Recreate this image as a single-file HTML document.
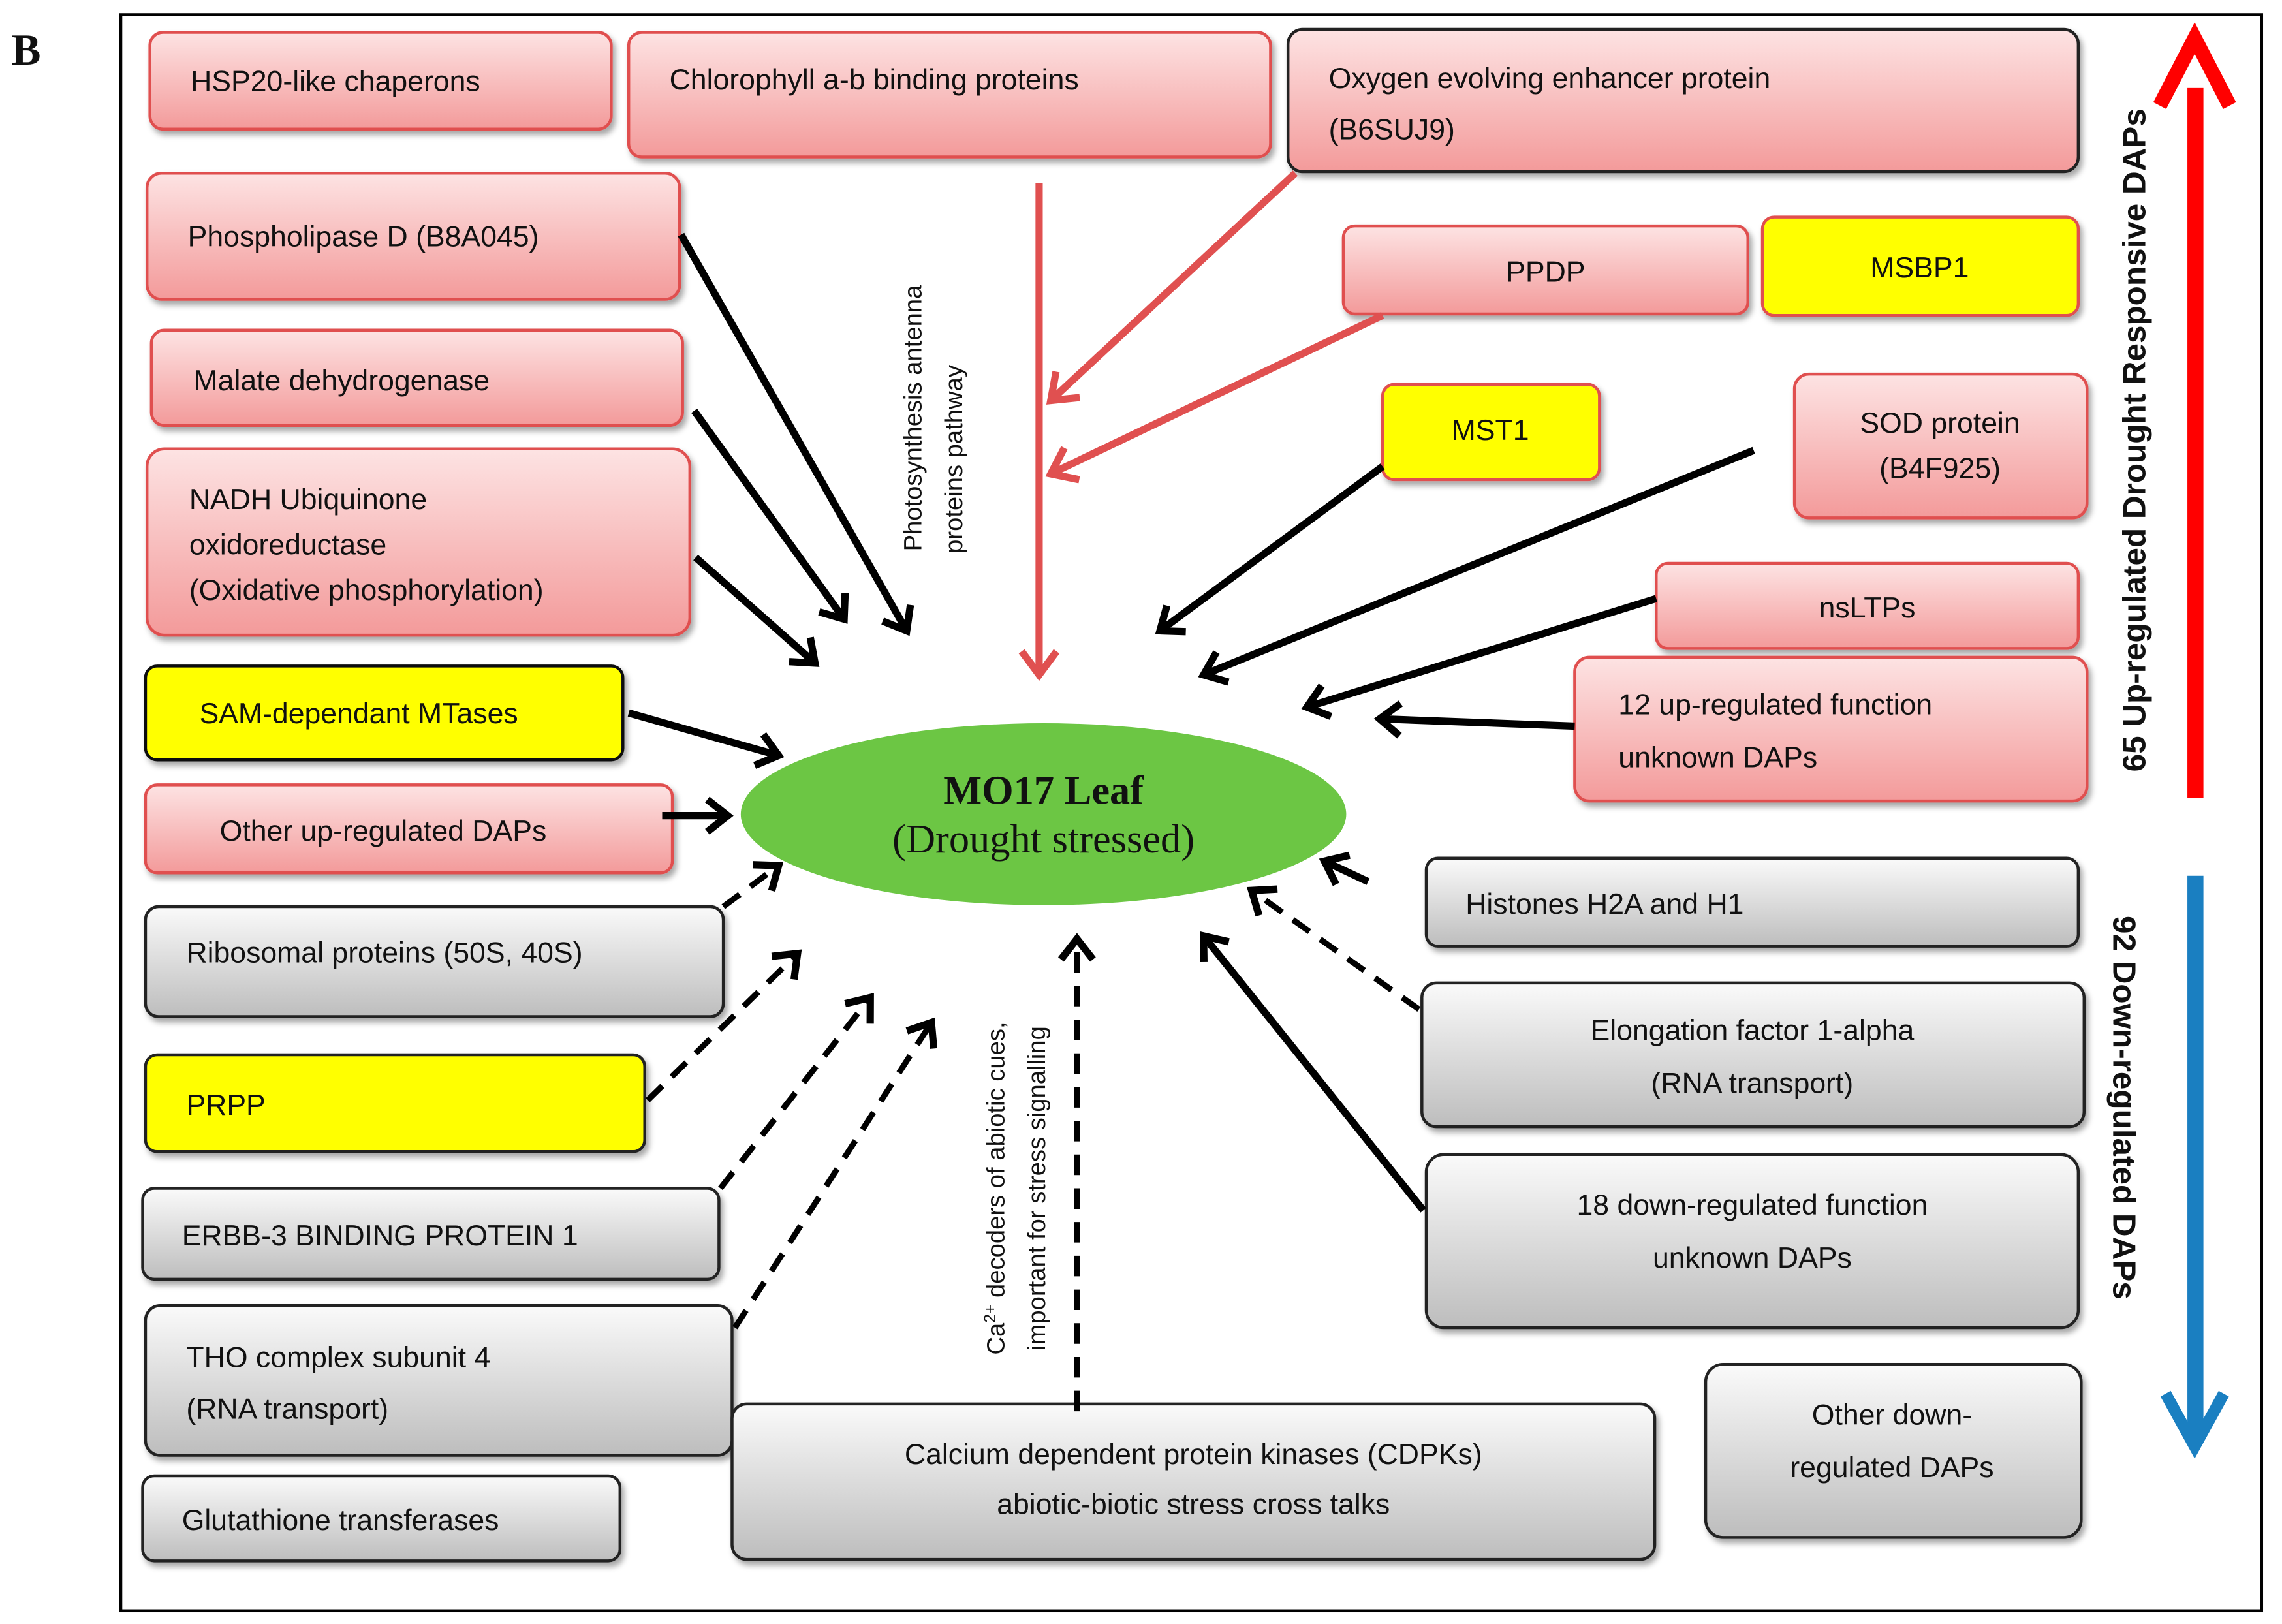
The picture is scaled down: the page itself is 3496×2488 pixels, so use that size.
<!DOCTYPE html>
<html><head><meta charset="utf-8"><style>
html,body{margin:0;padding:0;background:#fff;}
svg{display:block;}
text{font-family:"Liberation Sans",sans-serif;font-size:20px;fill:#111;}
</style></head><body>
<svg width="3496" height="2488" viewBox="0 0 1568 1107" preserveAspectRatio="none" xmlns="http://www.w3.org/2000/svg">
<defs>
<linearGradient id="pk" x1="0" y1="0" x2="0" y2="1"><stop offset="0" stop-color="#fde3e3"/><stop offset="1" stop-color="#f39a9a"/></linearGradient>
<linearGradient id="gr" x1="0" y1="0" x2="0" y2="1"><stop offset="0" stop-color="#fafafa"/><stop offset="1" stop-color="#bdbdbd"/></linearGradient>
<filter id="sh" x="-5%" y="-5%" width="115%" height="125%"><feDropShadow dx="2" dy="3" stdDeviation="2" flood-color="#000" flood-opacity="0.35"/></filter>
<marker id="ab" markerWidth="24" markerHeight="28" refX="18" refY="14" orient="auto" markerUnits="userSpaceOnUse" viewBox="0 0 24 28"><polyline points="4,3 18,14 4,25" fill="none" stroke="#000" stroke-width="5"/></marker>
<marker id="ar" markerWidth="26" markerHeight="30" refX="20" refY="15" orient="auto" markerUnits="userSpaceOnUse" viewBox="0 0 26 30"><polyline points="4,3 20,15 4,27" fill="none" stroke="#e05050" stroke-width="5"/></marker>
</defs>
<rect x="83" y="10" width="1471" height="1088" fill="#fff" stroke="#000" stroke-width="2"/>
<text x="8" y="44" style="font-family:'Liberation Serif',serif;font-weight:bold;font-size:30px">B</text>

<g filter="url(#sh)" stroke-width="2">
<rect x="103" y="22" width="317" height="66" rx="9" fill="url(#pk)" stroke="#e05050"/>
<rect x="432" y="22" width="441" height="85" rx="9" fill="url(#pk)" stroke="#e05050"/>
<rect x="885" y="20" width="543" height="97" rx="10" fill="url(#pk)" stroke="#222"/>
<rect x="101" y="118" width="366" height="86" rx="10" fill="url(#pk)" stroke="#e05050"/>
<rect x="104" y="225" width="365" height="65" rx="9" fill="url(#pk)" stroke="#e05050"/>
<rect x="101" y="306" width="373" height="127" rx="12" fill="url(#pk)" stroke="#e05050"/>
<rect x="923" y="154" width="278" height="60" rx="8" fill="url(#pk)" stroke="#e05050"/>
<rect x="1211" y="148" width="217" height="67" rx="8" fill="#ffff00" stroke="#e05050"/>
<rect x="950" y="262" width="149" height="65" rx="8" fill="#ffff00" stroke="#e05050"/>
<rect x="1233" y="255" width="201" height="98" rx="10" fill="url(#pk)" stroke="#e05050"/>
<rect x="1138" y="384" width="290" height="58" rx="8" fill="url(#pk)" stroke="#e05050"/>
<rect x="1082" y="448" width="352" height="98" rx="10" fill="url(#pk)" stroke="#e05050"/>
<rect x="100" y="454" width="328" height="64" rx="8" fill="#ffff00" stroke="#111"/>
<rect x="100" y="535" width="362" height="60" rx="8" fill="url(#pk)" stroke="#e05050"/>
<rect x="100" y="618" width="397" height="75" rx="9" fill="url(#gr)" stroke="#222"/>
<rect x="100" y="719" width="343" height="66" rx="8" fill="#ffff00" stroke="#222"/>
<rect x="98" y="810" width="396" height="62" rx="8" fill="url(#gr)" stroke="#222"/>
<rect x="100" y="890" width="403" height="102" rx="10" fill="url(#gr)" stroke="#222"/>
<rect x="98" y="1006" width="328" height="58" rx="8" fill="url(#gr)" stroke="#222"/>
<rect x="503" y="957" width="634" height="106" rx="10" fill="url(#gr)" stroke="#222"/>
<rect x="980" y="585" width="448" height="60" rx="8" fill="url(#gr)" stroke="#222"/>
<rect x="977" y="670" width="455" height="98" rx="10" fill="url(#gr)" stroke="#222"/>
<rect x="980" y="787" width="448" height="118" rx="12" fill="url(#gr)" stroke="#222"/>
<rect x="1172" y="930" width="258" height="118" rx="12" fill="url(#gr)" stroke="#222"/>
</g>

<ellipse cx="717" cy="555" rx="208" ry="62" fill="#6cc644"/>
<text x="717" y="548" text-anchor="middle" style="font-family:'Liberation Serif',serif;font-weight:bold;font-size:28px">MO17 Leaf</text>
<text x="717" y="581" text-anchor="middle" style="font-family:'Liberation Serif',serif;font-size:28px">(Drought stressed)</text>

<g style="font-weight:500">
<text x="131" y="62">HSP20-like chaperons</text>
<text x="460" y="61">Chlorophyll a-b binding proteins</text>
<text x="913" y="60">Oxygen evolving enhancer protein</text>
<text x="913" y="95">(B6SUJ9)</text>
<text x="129" y="168">Phospholipase D (B8A045)</text>
<text x="133" y="266">Malate dehydrogenase</text>
<text x="130" y="347">NADH Ubiquinone</text>
<text x="130" y="378">oxidoreductase</text>
<text x="130" y="409">(Oxidative phosphorylation)</text>
<text x="1062" y="192" text-anchor="middle">PPDP</text>
<text x="1319" y="189" text-anchor="middle">MSBP1</text>
<text x="1024" y="300" text-anchor="middle">MST1</text>
<text x="1333" y="295" text-anchor="middle">SOD protein</text>
<text x="1333" y="326" text-anchor="middle">(B4F925)</text>
<text x="1283" y="421" text-anchor="middle">nsLTPs</text>
<text x="1112" y="487">12 up-regulated function</text>
<text x="1112" y="523">unknown DAPs</text>
<text x="137" y="493">SAM-dependant MTases</text>
<text x="151" y="573">Other up-regulated DAPs</text>
<text x="128" y="656">Ribosomal proteins (50S, 40S)</text>
<text x="128" y="760">PRPP</text>
<text x="125" y="849">ERBB-3 BINDING PROTEIN 1</text>
<text x="128" y="932">THO complex subunit 4</text>
<text x="128" y="967">(RNA transport)</text>
<text x="125" y="1043">Glutathione transferases</text>
<text x="820" y="998" text-anchor="middle">Calcium dependent protein kinases (CDPKs)</text>
<text x="820" y="1032" text-anchor="middle">abiotic-biotic stress cross talks</text>
<text x="1007" y="623">Histones H2A and H1</text>
<text x="1204" y="709" text-anchor="middle">Elongation factor 1-alpha</text>
<text x="1204" y="745" text-anchor="middle">(RNA transport)</text>
<text x="1204" y="828" text-anchor="middle">18 down-regulated function</text>
<text x="1204" y="864" text-anchor="middle">unknown DAPs</text>
<text x="1300" y="971" text-anchor="middle">Other down-</text>
<text x="1300" y="1007" text-anchor="middle">regulated DAPs</text>
</g>

<text transform="translate(633,285) rotate(-90)" text-anchor="middle" style="font-size:17px">Photosynthesis antenna</text>
<text transform="translate(661,313) rotate(-90)" text-anchor="middle" style="font-size:17px">proteins pathway</text>
<text transform="translate(690,810) rotate(-90)" text-anchor="middle" style="font-size:17px">Ca<tspan dy="-6" font-size="11">2+</tspan><tspan dy="6"> decoders of abiotic cues,</tspan></text>
<text transform="translate(718,810) rotate(-90)" text-anchor="middle" style="font-size:17px">important for stress signalling</text>

<g stroke="#000" stroke-width="5" fill="none" marker-end="url(#ab)">
<line x1="468" y1="160" x2="623" y2="430"/>
<line x1="477" y1="280" x2="580" y2="422"/>
<line x1="478" y1="380" x2="560" y2="452"/>
<line x1="432" y1="486" x2="535" y2="515"/>
<line x1="455" y1="556" x2="500" y2="556"/>
<line x1="950" y1="318" x2="797" y2="430"/>
<line x1="1205" y1="307" x2="827" y2="460"/>
<line x1="1138" y1="408" x2="898" y2="482"/>
<line x1="1082" y1="495" x2="948" y2="490"/>
<line x1="978" y1="825" x2="827" y2="638"/>
<line x1="940" y1="601" x2="910" y2="587"/>
</g>
<g stroke="#000" stroke-width="4" fill="none" stroke-dasharray="14,9" marker-end="url(#ab)">
<line x1="497" y1="618" x2="535" y2="590"/>
<line x1="445" y1="750" x2="548" y2="650"/>
<line x1="495" y1="810" x2="598" y2="680"/>
<line x1="505" y1="905" x2="640" y2="697"/>
<line x1="740" y1="962" x2="740" y2="640"/>
<line x1="975" y1="688" x2="860" y2="607"/>
</g>
<g stroke="#e05050" stroke-width="5" fill="none" marker-end="url(#ar)">
<line x1="714" y1="125" x2="714" y2="460"/>
<line x1="890" y1="118" x2="722" y2="273"/>
<line x1="950" y1="215" x2="722" y2="323"/>
</g>
<rect x="1503" y="60" width="11" height="484" fill="#ff0000"/>
<polyline points="1484,72 1508,26 1532,72" fill="none" stroke="#ff0000" stroke-width="10"/>
<rect x="1503" y="597" width="11" height="385" fill="#1a7fc1"/>
<polyline points="1488,950 1508,986 1528,950" fill="none" stroke="#1a7fc1" stroke-width="8"/>
<text transform="translate(1474,300) rotate(-90)" text-anchor="middle" style="font-weight:bold;font-size:22px">65 Up-regulated Drought Responsive DAPs</text>
<text transform="translate(1452,755) rotate(90)" text-anchor="middle" style="font-weight:bold;font-size:22px">92 Down-regulated DAPs</text>
</svg>
</body></html>
